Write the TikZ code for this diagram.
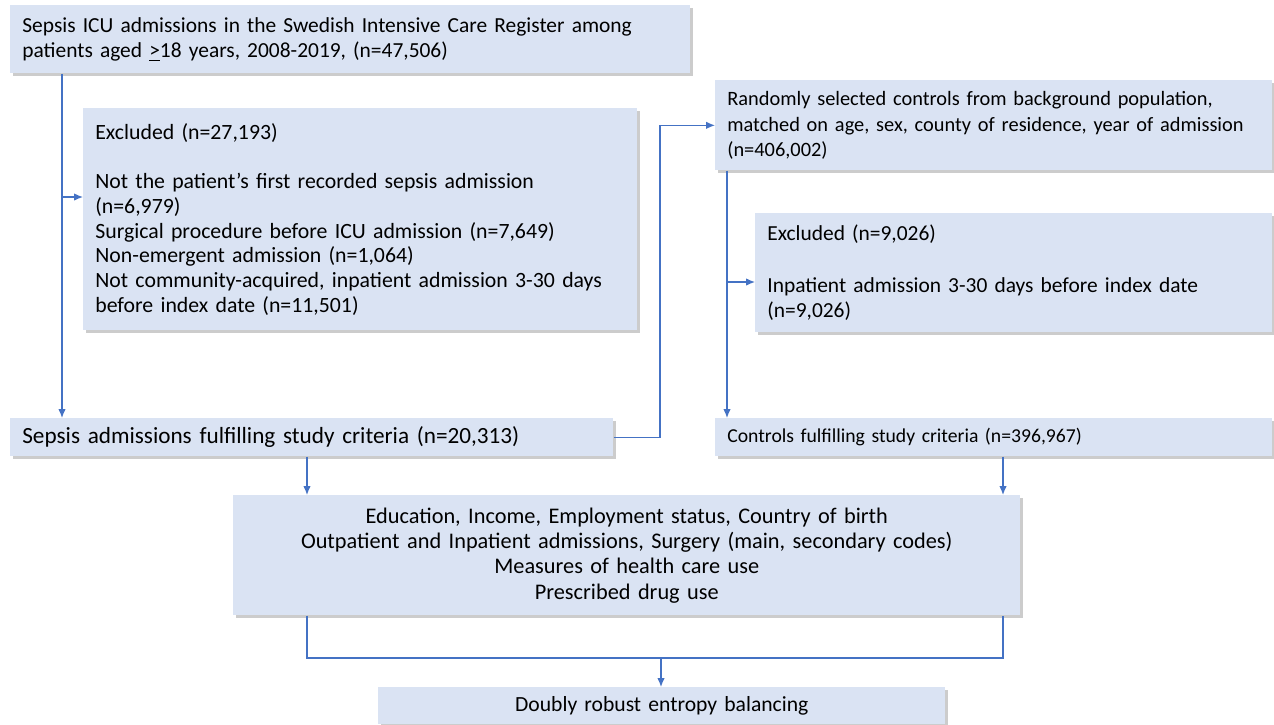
\documentclass[tikz,border=0pt]{standalone}
\usepackage{fontspec}
\setmainfont{Carlito}
\usepackage{xcolor}
\usepackage{tikz}
\usetikzlibrary{arrows.meta, positioning, shadows, calc}

\definecolor{boxfill}{HTML}{DAE3F3}
\definecolor{linkblue}{HTML}{4472C4}

\begin{document}
\begin{tikzpicture}[
    x=0.02cm, y=-0.02cm,
    box/.style={
        rectangle,
        fill=boxfill,
        anchor=north west,
        inner xsep=0.24cm,
        inner ysep=0pt,
        align=left,
        font=\fontsize{11.5}{14.4}\selectfont,
        drop shadow={shadow xshift=0.05cm, shadow yshift=-0.06cm, fill=black!40}
    },
    cbox/.style={
        box,
        align=center
    },
    big/.style={
        font=\fontsize{12.4}{14.1}\selectfont
    },
    link/.style={
        draw=linkblue,
        line width=0.7pt
    },
    arrow/.style={
        link,
        -{Latex[length=1.8mm, width=1.5mm]}
    }
]
\useasboundingbox (0,0) rectangle (1274,724);

% === Sepsis side ===
\node[box, font=\fontsize{12.2}{14.3}\selectfont, text width=13.12cm, minimum height=1.36cm] (sepsisall) at (10,5)
    {Sepsis ICU admissions in the Swedish Intensive Care Register among\\patients aged \underline{>}18 years, 2008-2019, (n=47,506)};
\node[box, big, text width=10.6cm, minimum height=4.44cm] (sepsisexcl) at (83,108)
    {Excluded (n=27,193)\\[14.1pt]Not the patient’s first recorded sepsis admission\\(n=6,979)\\Surgical procedure before ICU admission (n=7,649)\\Non-emergent admission (n=1,064)\\Not community-acquired, inpatient admission 3-30 days\\before index date (n=11,501)};
\node[box, font=\fontsize{13.2}{14.1}\selectfont, text width=11.58cm, minimum height=0.76cm] (sepsisok) at (10,418)
    {Sepsis admissions fulfilling study criteria (n=20,313)};

% === Control side ===
\node[box, font=\fontsize{11.6}{14.7}\selectfont, text width=10.66cm, minimum height=1.8cm] (ctrlall) at (715,80)
    {Randomly selected controls from background population,\\matched on age, sex, county of residence, year of admission\\(n=406,002)};
\node[box, font=\fontsize{12.2}{14.7}\selectfont, text width=9.86cm, minimum height=2.38cm] (ctrlexcl) at (755,213)
    {Excluded (n=9,026)\\[14.7pt]Inpatient admission 3-30 days before index date\\(n=9,026)};
\node[box, font=\fontsize{11.2}{14}\selectfont, text width=10.66cm, minimum height=0.76cm] (ctrlok) at (715,418)
    {Controls fulfilling study criteria (n=396,967)};

% === Covariates and analysis ===
\node[cbox, font=\fontsize{12.7}{14.4}\selectfont, text width=15.26cm, minimum height=2.4cm] (covars) at (233,495)
    {Education, Income, Employment status, Country of birth\\Outpatient and Inpatient admissions, Surgery (main, secondary codes)\\Measures of health care use\\Prescribed drug use};
\node[cbox, font=\fontsize{12.3}{14}\selectfont, text width=10.86cm, minimum height=0.74cm] (balance) at (378,687)
    {Doubly robust entropy balancing};

% === Junctions ===
\coordinate (sx) at (62,197);
\coordinate (jump) at (660,300);
\coordinate (cx) at (727,282);
\coordinate (merge) at (661,658);

% === Arrows ===
\draw[arrow] (sepsisall.south -| sx) -- (sepsisok.north -| sx);
\draw[arrow] (sx) -- (sx -| sepsisexcl.west);
\draw[arrow] (sepsisok.east) -| (jump) |- (ctrlall.west);
\draw[arrow] (ctrlall.south -| cx) -- (ctrlok.north -| cx);
\draw[arrow] (cx) -- (cx -| ctrlexcl.west);
\draw[arrow] (sepsisok.south -| 307,0) -- (covars.north -| 307,0);
\draw[arrow] (ctrlok.south -| 1003,0) -- (covars.north -| 1003,0);
\draw[link] (covars.south -| 307,0) |- (merge) -| (covars.south -| 1003,0);
\draw[arrow] (merge) -- (balance.north -| merge);
\end{tikzpicture}
\end{document}
